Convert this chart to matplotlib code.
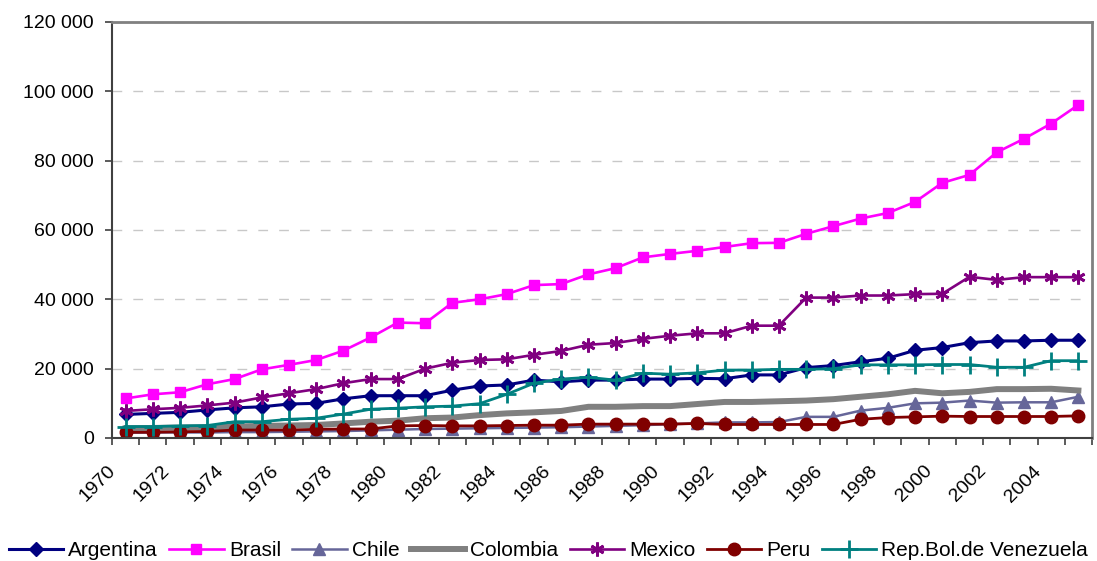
import numpy as np
import matplotlib.pyplot as plt
from matplotlib.ticker import FuncFormatter
from matplotlib.transforms import ScaledTranslation

plt.rcParams['font.family'] = ['Liberation Sans', 'DejaVu Sans']

years = list(range(1970, 2006))

argentina = [6800, 7100, 7400, 8100, 8700, 9000, 9800, 10000, 11300, 12200,
             12200, 12200, 13800, 15000, 15300, 16700, 16200, 16700, 16700, 17000,
             17000, 17200, 17100, 18200, 18200, 20300, 20900, 22000, 23000, 25300,
             26100, 27500, 28000, 28000, 28200, 28200]
brasil = [11400, 12600, 13200, 15500, 17000, 19800, 21100, 22500, 25200, 29000,
          33300, 33100, 39000, 40000, 41500, 44100, 44400, 47200, 49000, 52100,
          53100, 54000, 55100, 56200, 56300, 58900, 61100, 63300, 64900, 68100,
          73600, 75900, 82400, 86300, 90700, 96100]
chile = [1500, 1600, 1600, 1600, 1700, 1700, 1800, 1900, 2000, 2200,
         2400, 2600, 2700, 2800, 2900, 3000, 3100, 3300, 3500, 3700,
         4000, 4200, 4500, 4500, 4600, 6100, 6100, 7900, 8700, 10000,
         10200, 10800, 10200, 10300, 10300, 11900]
colombia = [2800, 2900, 3000, 3100, 3300, 3500, 3600, 3750, 4200, 4700,
            5000, 5700, 5900, 6600, 7100, 7400, 7800, 9000, 9000, 9200,
            9200, 9800, 10400, 10400, 10600, 10800, 11200, 11900, 12600, 13600,
            12900, 13300, 14100, 14100, 14200, 13700]
mexico = [7800, 8300, 8700, 9400, 10200, 11700, 12900, 14100, 15800, 17000,
          17000, 20000, 21700, 22500, 22700, 24000, 25100, 26900, 27400, 28600,
          29500, 30200, 30200, 32400, 32400, 40500, 40500, 41100, 41100, 41500,
          41600, 46500, 45600, 46400, 46400, 46400]
peru = [1650, 1650, 1800, 1900, 2300, 2300, 2300, 2500, 2600, 2600,
        3500, 3600, 3500, 3500, 3600, 3700, 3700, 4000, 4000, 4000,
        4000, 4200, 3900, 3900, 3900, 3900, 3900, 5400, 5900, 6100,
        6300, 6200, 6200, 6200, 6200, 6400]
venezuela = [3300, 3300, 3500, 3600, 4700, 4700, 5400, 5700, 6900, 8300,
             8600, 9000, 9200, 9900, 12600, 15800, 17000, 17500, 16700, 18700,
             18400, 18800, 19600, 19600, 19800, 19800, 20000, 21100, 21100, 21100,
             21200, 21200, 20400, 20400, 22300, 22300]

x = np.arange(len(years))

fig = plt.figure(figsize=(10.97, 5.61), dpi=100)
ax = fig.add_axes([112 / 1097, 1 - 438 / 561, 980 / 1097, 416 / 561])

ax.plot(x, argentina, color='#000080', lw=2.2, marker='D', ms=7, label='Argentina')
ax.plot(x, brasil, color='#FF00FF', lw=1.9, marker='s', ms=7.5, label='Brasil')
ax.plot(x, chile, color='#666699', lw=1.8, marker='^', ms=9, label='Chile')
ax.plot(x, colombia, color='#808080', lw=4.3, label='Colombia')
ax.plot(x, mexico, color='#800080', lw=1.9, marker=(6, 2, 0), ms=10, mew=2,
        label='Mexico')
ax.plot(x, peru, color='#800000', lw=2.0, marker='o', ms=9, label='Peru')
ax.plot(x, venezuela, color='#008080', lw=2.0, marker='+', ms=13, mew=2,
        label='Rep.Bol.de Venezuela')

ax.set_xlim(-0.5, len(years) - 0.5)
ax.set_ylim(0, 120000)
ax.set_yticks(np.arange(0, 120001, 20000))
ax.yaxis.set_major_formatter(FuncFormatter(lambda v, p: f'{int(v):,}'.replace(',', ' ')))
ax.grid(True, axis='y', color='#c8c8c8', lw=1, linestyle=(0, (7, 8)))
ax.set_axisbelow(True)

ax.set_xticks(x[::2])
ax.set_xticklabels([str(y) for y in years[::2]], rotation=45, ha='right',
                   va='center', rotation_mode='anchor')
ax.set_xticks(np.arange(-0.5, len(years)), minor=True)
ax.tick_params(axis='x', which='major', length=0, pad=22, labelsize=14)
ax.tick_params(axis='x', which='minor', length=5, width=1.2, color='#404040')
ax.tick_params(axis='y', length=5, width=1.2, color='#404040', pad=8, labelsize=14)

# move the slanted year labels a little to the left of each category
shift = ScaledTranslation(-0.13, 0, fig.dpi_scale_trans)
for lbl in ax.get_xticklabels():
    lbl.set_transform(lbl.get_transform() + shift)

for side in ['left', 'bottom']:
    ax.spines[side].set_color('#404040')
    ax.spines[side].set_linewidth(1.5)
for side in ['top', 'right']:
    ax.spines[side].set_color('#808080')
    ax.spines[side].set_linewidth(2)

fig.legend(loc='center', bbox_to_anchor=(0.5, 10 / 561), ncol=7, frameon=False,
           fontsize=15, handlelength=2.6, handletextpad=0.25, columnspacing=0.55,
           borderaxespad=0)

plt.savefig('out.png', dpi=100)
